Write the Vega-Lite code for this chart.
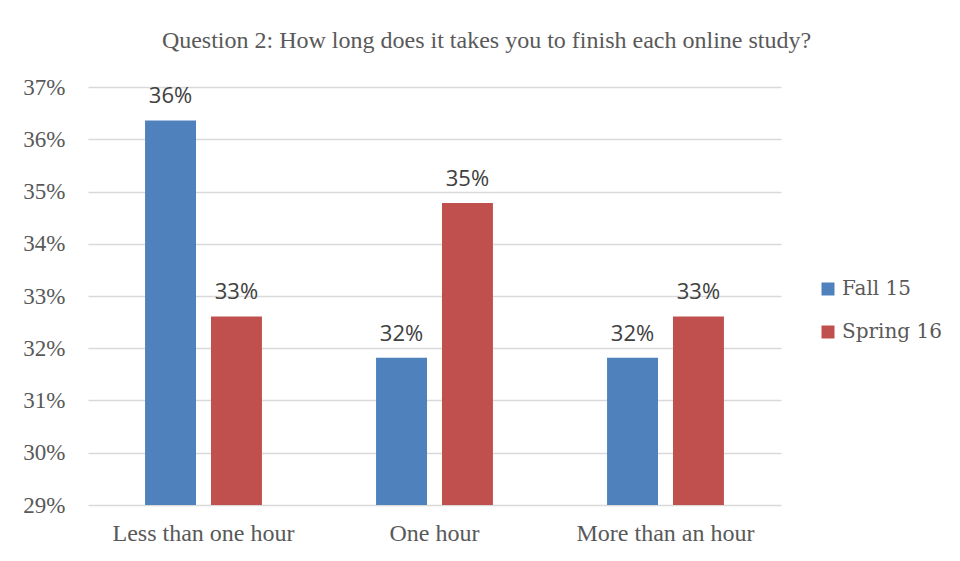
{
  "$schema": "https://vega.github.io/schema/vega-lite/v6.json",
  "width": 693,
  "height": 418,
  "autosize": {"type": "none"},
  "padding": {"left": 88, "top": 87, "right": 179, "bottom": 56},
  "background": "white",
  "title": {
    "text": "Question 2: How long does it takes you to finish each online study?",
    "font": "Liberation Serif",
    "fontSize": 24,
    "fontWeight": "normal",
    "color": "#595959",
    "anchor": "middle",
    "dx": 52,
    "baseline": "alphabetic",
    "offset": 4
  },
  "data": {
    "values": [
      {"category": "Less than one hour", "term": "Fall 15", "value": 0.3636},
      {"category": "Less than one hour", "term": "Spring 16", "value": 0.3261},
      {"category": "One hour", "term": "Fall 15", "value": 0.3182},
      {"category": "One hour", "term": "Spring 16", "value": 0.3478},
      {"category": "More than an hour", "term": "Fall 15", "value": 0.3182},
      {"category": "More than an hour", "term": "Spring 16", "value": 0.3261}
    ]
  },
  "encoding": {
    "x": {
      "field": "category",
      "type": "nominal",
      "sort": ["Less than one hour", "One hour", "More than an hour"],
      "scale": {"paddingInner": 0.494, "paddingOuter": 0.247},
      "axis": {
        "title": null,
        "labelAngle": 0,
        "grid": false,
        "labelFontSize": 24,
        "labelBaseline": "alphabetic",
        "labelPadding": 35,
        "labelLimit": 0
      }
    },
    "xOffset": {
      "field": "term",
      "type": "nominal",
      "sort": ["Fall 15", "Spring 16"],
      "scale": {"paddingInner": 0.227, "paddingOuter": 0}
    },
    "y": {
      "field": "value",
      "type": "quantitative",
      "scale": {"domain": [0.29, 0.37], "zero": false, "nice": false},
      "axis": {
        "title": null,
        "format": ".0%",
        "values": [0.29, 0.30, 0.31, 0.32, 0.33, 0.34, 0.35, 0.36, 0.37],
        "labelFontSize": 23,
        "labelPadding": 23,
        "grid": true,
        "gridColor": "#D9D9D9",
        "gridWidth": 1.3
      }
    }
  },
  "layer": [
    {
      "mark": {"type": "bar", "clip": true},
      "encoding": {
        "color": {
          "field": "term",
          "type": "nominal",
          "sort": ["Fall 15", "Spring 16"],
          "scale": {"domain": ["Fall 15", "Spring 16"], "range": ["#4F81BD", "#C0504D"]},
          "legend": {"title": null}
        }
      }
    },
    {
      "mark": {
        "type": "text",
        "baseline": "alphabetic",
        "dy": -17,
        "font": "Open Sans",
        "fontSize": 22,
        "color": "#404040"
      },
      "encoding": {
        "text": {"field": "value", "type": "quantitative", "format": ".0%"}
      }
    }
  ],
  "config": {
    "view": {"stroke": null},
    "axis": {
      "labelFont": "Liberation Serif",
      "labelColor": "#595959",
      "domain": false,
      "ticks": false
    },
    "legend": {
      "orient": "none",
      "legendX": 730,
      "legendY": 192,
      "symbolType": "square",
      "symbolSize": 169,
      "symbolStrokeWidth": 0,
      "labelFont": "DejaVu Serif",
      "labelFontSize": 20,
      "labelColor": "#595959",
      "labelOffset": 4,
      "rowPadding": 23,
      "padding": 0
    }
  }
}
